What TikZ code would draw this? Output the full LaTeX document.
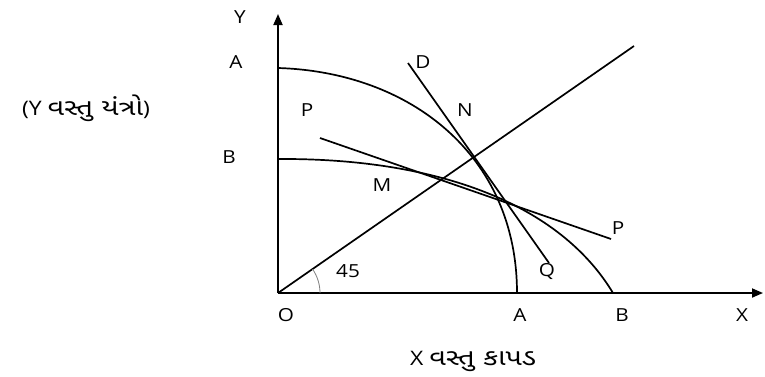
\documentclass[tikz,border=0pt]{standalone}
\usepackage{fontspec}
\setmainfont{Open Sans}[FakeStretch=1.15]
\newfontfamily\gujfont[Script=Gujarati,FakeStretch=1.25]{Noto Sans Gujarati UI}
\usetikzlibrary{arrows.meta}
\begin{document}
\begin{tikzpicture}[x=1pt,y=-1pt,
  axisln/.style={line width=1.8pt,-{Triangle[length=11pt,width=9pt]}},
  curveln/.style={line width=1.7pt},
  lbl/.style={font=\fontsize{18}{20}\selectfont,inner sep=0pt},
  titlelbl/.style={font=\fontsize{20}{22}\selectfont,inner sep=0pt}]
\useasboundingbox (0,0) rectangle (765,376);
% points
\coordinate (O) at (278,293);
\coordinate (Ytip) at (278,14);
\coordinate (Xtip) at (763,293);
\coordinate (Ray) at (634,46);
\coordinate (D1) at (408,63);
\coordinate (Q1) at (549,263);
\coordinate (P1) at (320,138);
\coordinate (P2) at (611,239);
\coordinate (Atop) at (278,68);
\coordinate (Abot) at (517,293);
\coordinate (Btop) at (278,159);
\coordinate (Bbot) at (613,293);
% axes
\draw[axisln] (O) -- (Ytip);
\draw[axisln] (O) -- (Xtip);
% curve A
\draw[curveln] (Atop) .. controls (410,72) and (517,155) .. (Abot);
% curve B
\draw[curveln] (Btop) .. controls (440,158) and (560,205) .. (Bbot);
% lines
\draw[curveln] (O) -- (Ray);
\draw[curveln] (D1) -- (Q1);
\draw[curveln] (P1) -- (P2);
% angle arc
\draw[gray,line width=0.8pt] ([xshift=42pt]O) arc[start angle=0,end angle=-34.8,radius=42];
% labels
\node[lbl] (lY) at (240,17) {Y};
\node[lbl] (lA1) at (236,62) {A};
\node[lbl] (lB1) at (229,157) {B};
\node[lbl] (lP1) at (307,110) {P};
\node[lbl] (lD) at (423,62) {D};
\node[lbl] (lN) at (465,110) {N};
\node[lbl] (lM) at (382,185) {M};
\node[lbl] (lP2) at (618,228) {P};
\node[lbl] (lQ) at (547,271) {Q};
\node[lbl] (l45) at (348,271) {45};
\node[lbl] (lO) at (286,315) {O};
\node[lbl] (lA2) at (520,315) {A};
\node[lbl] (lB2) at (622,315) {B};
\node[lbl] (lX) at (742,315) {X};
\node[titlelbl] (ly) at (86,108) {(Y {\gujfont\fontsize{23}{25}\selectfont વસ્તુ યંત્રો})};
\node[titlelbl] (lx) at (473,361) {X {\gujfont\fontsize{23}{25}\selectfont વસ્તુ કાપડ}};
\end{tikzpicture}
\end{document}
